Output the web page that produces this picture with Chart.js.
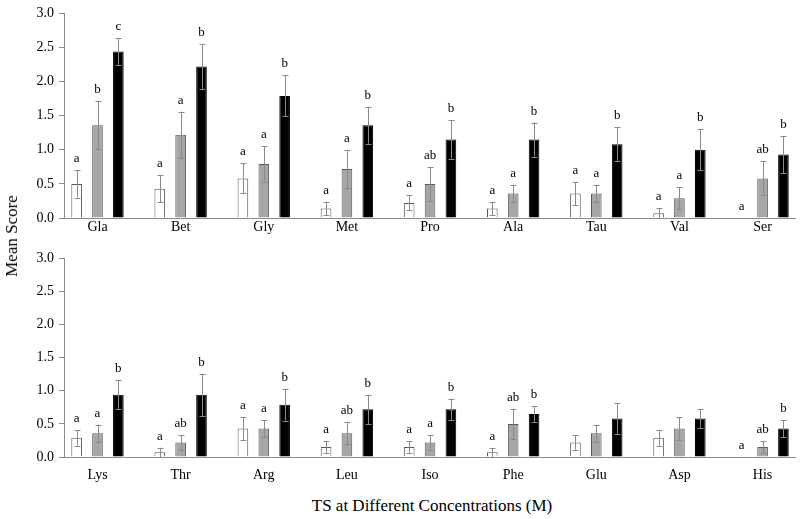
<!DOCTYPE html>
<html>
<head>
<meta charset="utf-8">
<script src="https://cdn.jsdelivr.net/npm/chart.js@4.4.1/dist/chart.umd.min.js"></script>
<style>
  html, body { margin: 0; padding: 0; background: #fff; }
  #wrap { position: relative; width: 800px; height: 519px; font-family: "Liberation Serif", "Times New Roman", serif; color: #000; }
  .panel { position: absolute; left: 0; width: 800px; height: 245px; }
  #topPanel { top: 0; }
  #bottomPanel { top: 245px; }
  #yTitle { position: absolute; left: 12px; top: 236px; transform: translate(-50%, -50%) rotate(-90deg); font-size: 17px; white-space: nowrap; }
  #xTitle { position: absolute; left: 432px; top: 506px; transform: translate(-50%, -50%); font-size: 17px; white-space: nowrap; }
</style>
</head>
<body>
<div id="wrap">
  <div class="panel" id="topPanel"><canvas id="topChart"></canvas></div>
  <div class="panel" id="bottomPanel"><canvas id="bottomChart"></canvas></div>
  <div id="yTitle">Mean Score</div>
  <div id="xTitle">TS at Different Concentrations (M)</div>
</div>
<script>
// upper panel
var TOP_CATS = ['Gla', 'Bet', 'Gly', 'Met', 'Pro', 'Ala', 'Tau', 'Val', 'Ser'];
var TOP_LOW = [0.50, 0.43, 0.58, 0.14, 0.22, 0.14, 0.36, 0.07, 0];
var TOP_LOW_SD = [0.20, 0.20, 0.22, 0.10, 0.11, 0.10, 0.17, 0.07, 0];
var TOP_MID = [1.36, 1.22, 0.79, 0.72, 0.50, 0.36, 0.36, 0.29, 0.58];
var TOP_MID_SD = [0.35, 0.34, 0.26, 0.28, 0.25, 0.13, 0.13, 0.16, 0.25];
var TOP_HIGH = [2.44, 2.22, 1.79, 1.36, 1.15, 1.15, 1.08, 1.00, 0.93];
var TOP_HIGH_SD = [0.20, 0.33, 0.30, 0.27, 0.28, 0.25, 0.25, 0.30, 0.27];
var TOP_LOW_TAG = ['a', 'a', 'a', 'a', 'a', 'a', 'a', 'a', 'a'];
var TOP_MID_TAG = ['b', 'a', 'a', 'a', 'ab', 'a', 'a', 'a', 'ab'];
var TOP_HIGH_TAG = ['c', 'b', 'b', 'b', 'b', 'b', 'b', 'b', 'b'];

// lower panel
var BOT_CATS = ['Lys', 'Thr', 'Arg', 'Leu', 'Iso', 'Phe', 'Glu', 'Asp', 'His'];
var BOT_LOW = [0.29, 0.07, 0.43, 0.15, 0.15, 0.07, 0.22, 0.29, 0];
var BOT_LOW_SD = [0.12, 0.07, 0.17, 0.09, 0.09, 0.07, 0.11, 0.12, 0];
var BOT_MID = [0.36, 0.22, 0.43, 0.36, 0.22, 0.50, 0.36, 0.43, 0.15];
var BOT_MID_SD = [0.13, 0.11, 0.13, 0.17, 0.11, 0.23, 0.13, 0.17, 0.09];
var BOT_HIGH = [0.94, 0.94, 0.79, 0.72, 0.72, 0.65, 0.58, 0.58, 0.43];
var BOT_HIGH_SD = [0.22, 0.32, 0.24, 0.22, 0.16, 0.12, 0.23, 0.14, 0.13];
var BOT_LOW_TAG = ['a', 'a', 'a', 'a', 'a', 'a', '', '', 'a'];
var BOT_MID_TAG = ['a', 'ab', 'a', 'ab', 'a', 'ab', '', '', 'ab'];
var BOT_HIGH_TAG = ['b', 'b', 'b', 'b', 'b', 'b', '', '', 'b'];

var Y_TICKS = [0, 0.5, 1.0, 1.5, 2.0, 2.5, 3.0];

var FONT = '"Liberation Serif", "Times New Roman", serif';
var AXIS_GREY = '#8c8c8c';

/* error bars + significance letters */
var errorBars = {
  id: 'errorBars',
  afterDatasetsDraw: function(chart) {
    var ctx = chart.ctx, y = chart.scales.y;
    ctx.save();
    chart.data.datasets.forEach(function(ds, di) {
      var meta = chart.getDatasetMeta(di);
      meta.data.forEach(function(bar, i) {
        var v = ds.data[i].y, sd = ds.sd[i];
        var x = Math.round(bar.x) + 0.5;
        var top = y.getPixelForValue(v + sd);
        if (sd > 0) {
          var bot = y.getPixelForValue(v - sd);
          ctx.strokeStyle = '#8a8a8a';
          ctx.lineWidth = 1;
          ctx.beginPath();
          ctx.moveTo(x, top); ctx.lineTo(x, bot);
          ctx.moveTo(x - 3, Math.round(top) + 0.5); ctx.lineTo(x + 3, Math.round(top) + 0.5);
          ctx.moveTo(x - 3, Math.round(bot) + 0.5); ctx.lineTo(x + 3, Math.round(bot) + 0.5);
          ctx.stroke();
        }
        if (ds.tags[i]) {
          ctx.fillStyle = '#000';
          ctx.font = '13px ' + FONT;
          ctx.textAlign = 'center';
          ctx.textBaseline = 'alphabetic';
          ctx.fillText(ds.tags[i], bar.x, top - 8);
        }
      });
    });
    ctx.restore();
  }
};

function points(vals) {
  return vals.map(function(v, i) { return {x: i, y: v}; });
}

function makePanel(id, cats, low, lowSd, lowTag, mid, midSd, midTag, high, highSd, highTag, padTop, axisH, labelPad) {
  return new Chart(document.getElementById(id), {
    type: 'bar',
    data: {
      datasets: [
        {label: 'Low', data: points(low), sd: lowSd, tags: lowTag, backgroundColor: '#ffffff', borderColor: '#595959', borderWidth: 1},
        {label: 'Mid', data: points(mid), sd: midSd, tags: midTag, backgroundColor: '#a6a6a6', borderColor: '#595959', borderWidth: 1},
        {label: 'High', data: points(high), sd: highSd, tags: highTag, backgroundColor: '#000000', borderColor: '#000000', borderWidth: 1}
      ]
    },
    options: {
      responsive: true, maintainAspectRatio: false, animation: false,
      layout: {padding: {top: padTop, right: 5, left: 0, bottom: 0}},
      plugins: {legend: {display: false}, tooltip: {enabled: false}},
      datasets: {bar: {categoryPercentage: 0.753, barPercentage: 0.51}},
      scales: {
        x: {
          type: 'linear', min: -0.403, max: 8.39, bounds: 'data', offset: false,
          grid: {display: false, drawTicks: false, offset: false},
          border: {color: AXIS_GREY},
          afterBuildTicks: function(s) { s.ticks = cats.map(function(c, i) { return {value: i}; }); },
          ticks: {
            autoSkip: false, maxRotation: 0,
            padding: labelPad, color: '#000', font: {family: FONT, size: 14},
            callback: function(v) { return cats[Math.round(v)] || ''; }
          },
          afterFit: function(s) { s.height = axisH; }
        },
        y: {
          min: 0, max: 3,
          grid: {drawOnChartArea: false, tickLength: 5, color: AXIS_GREY},
          border: {color: AXIS_GREY},
          afterBuildTicks: function(s) { s.ticks = Y_TICKS.map(function(v) { return {value: v}; }); },
          ticks: {
            padding: 5, color: '#000', font: {family: FONT, size: 14},
            callback: function(v) { return Number(v).toFixed(1); }
          },
          afterFit: function(s) { s.width = 64; }
        }
      }
    },
    plugins: [errorBars]
  });
}

makePanel('topChart', TOP_CATS, TOP_LOW, TOP_LOW_SD, TOP_LOW_TAG, TOP_MID, TOP_MID_SD, TOP_MID_TAG,
  TOP_HIGH, TOP_HIGH_SD, TOP_HIGH_TAG, 12, 27, 1);
makePanel('bottomChart', BOT_CATS, BOT_LOW, BOT_LOW_SD, BOT_LOW_TAG, BOT_MID, BOT_MID_SD, BOT_MID_TAG,
  BOT_HIGH, BOT_HIGH_SD, BOT_HIGH_TAG, 8, 33, 10);
</script>
</body>
</html>
